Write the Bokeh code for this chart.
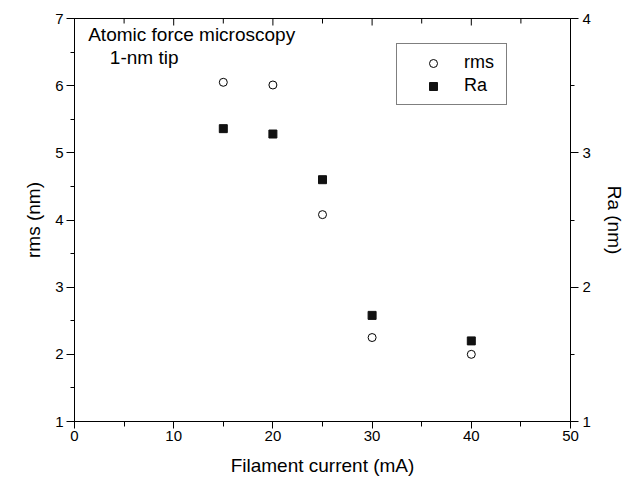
from bokeh.plotting import figure
from bokeh.models import (Range1d, LinearAxis, SingleIntervalTicker,
                          Legend, LegendItem, Label)
from bokeh.embed import file_html
from bokeh.resources import INLINE

# Data
current_ma = [15, 20, 25, 30, 40]
rms_nm = [6.05, 6.01, 4.08, 2.25, 2.00]
ra_nm = [3.18, 3.14, 2.80, 1.79, 1.60]

x_title = "Filament current (mA)"
y_left_title = "rms (nm)"
y_right_title = "Ra (nm)"
annotation_lines = ["Atomic force microscopy", "1-nm tip"]

# tick positions of the inward ticks along the top edge of the frame
top_major_ticks = [10, 20, 30, 40]
top_minor_ticks = [5, 15, 25, 35, 45]

X_MIN, X_MAX = 0, 50
Y_MIN, Y_MAX = 1, 7
RA_MIN, RA_MAX = 1, 4

FONT = "Liberation Sans"

W, H = 632, 480
B_LEFT, B_RIGHT, B_TOP, B_BOTTOM = 74, 62, 18, 59
frame_h = H - B_TOP - B_BOTTOM
units_per_px = (Y_MAX - Y_MIN) / frame_h

p = figure(width=W, height=H, output_backend="svg", toolbar_location=None,
           x_range=Range1d(X_MIN, X_MAX), y_range=Range1d(Y_MIN, Y_MAX),
           min_border_left=B_LEFT, min_border_right=B_RIGHT,
           min_border_top=B_TOP, min_border_bottom=B_BOTTOM)
p.extra_y_ranges = {"ra": Range1d(RA_MIN, RA_MAX)}
p.background_fill_color = "white"
p.border_fill_color = "white"
p.xgrid.visible = False
p.ygrid.visible = False
p.outline_line_color = "black"
p.outline_line_width = 1


def style_axis(ax):
    ax.axis_line_color = "black"
    ax.major_tick_line_color = "black"
    ax.minor_tick_line_color = "black"
    ax.major_label_text_color = "black"
    ax.major_label_text_font = FONT
    ax.major_label_text_font_size = "15px"
    ax.axis_label_text_font = FONT
    ax.axis_label_text_font_size = "19px"
    ax.axis_label_text_font_style = "normal"
    ax.axis_label_text_color = "black"


# bottom axis
xa = p.xaxis[0]
xa.ticker = SingleIntervalTicker(interval=10, num_minor_ticks=2)
xa.axis_label = x_title
style_axis(xa)
xa.major_tick_in = 0
xa.major_tick_out = 7
xa.minor_tick_in = 0
xa.minor_tick_out = 5
xa.major_label_standoff = 2
xa.axis_label_standoff = 11

# left axis
ya = p.yaxis[0]
ya.ticker = SingleIntervalTicker(interval=1, num_minor_ticks=2)
ya.axis_label = y_left_title
style_axis(ya)
ya.major_tick_in = 0
ya.major_tick_out = 8
ya.minor_tick_in = 0
ya.minor_tick_out = 4
ya.major_label_standoff = 3
ya.axis_label_standoff = 8

# right axis
ra_axis = LinearAxis(y_range_name="ra", axis_label=y_right_title,
                     ticker=SingleIntervalTicker(interval=1, num_minor_ticks=2))
style_axis(ra_axis)
ra_axis.major_tick_in = 0
ra_axis.major_tick_out = 8
ra_axis.minor_tick_in = 0
ra_axis.minor_tick_out = 4
ra_axis.major_label_standoff = 4
ra_axis.axis_label_standoff = 10
p.add_layout(ra_axis, "right")

# inward ticks along the top edge of the frame
p.segment(x0=top_major_ticks, x1=top_major_ticks,
          y0=[Y_MAX] * len(top_major_ticks),
          y1=[Y_MAX - 7 * units_per_px] * len(top_major_ticks),
          line_color="black", line_width=1)
p.segment(x0=top_minor_ticks, x1=top_minor_ticks,
          y0=[Y_MAX] * len(top_minor_ticks),
          y1=[Y_MAX - 5 * units_per_px] * len(top_minor_ticks),
          line_color="black", line_width=1)

r_rms = p.scatter(current_ma, rms_nm, marker="circle", size=8,
                  fill_color="white", line_color="black", line_width=1)
r_ra = p.scatter(current_ma, ra_nm, marker="square", size=8, y_range_name="ra",
                 fill_color="#111111", line_color="#111111", line_width=1)

legend = Legend(items=[LegendItem(label="rms", renderers=[r_rms]),
                       LegendItem(label="Ra", renderers=[r_ra])],
                location=(322, 316))
legend.padding = 8
legend.margin = 0
legend.spacing = 2
legend.glyph_width = 56
legend.glyph_height = 20
legend.label_standoff = 3
legend.label_width = 34
legend.label_text_font = FONT
legend.label_text_font_size = "18px"
legend.label_text_color = "black"
legend.border_line_color = "black"
legend.border_line_width = 1
legend.background_fill_color = "white"
legend.background_fill_alpha = 1
p.add_layout(legend)

lab1 = Label(x=1.38, y=6.764, text=annotation_lines[0], text_font=FONT,
             text_font_size="19px", text_color="black", text_baseline="alphabetic")
lab2 = Label(x=3.56, y=6.417, text=annotation_lines[1], text_font=FONT,
             text_font_size="19px", text_color="black", text_baseline="alphabetic")
p.add_layout(lab1)
p.add_layout(lab2)

open("out.html", "w").write(file_html(p, INLINE))
